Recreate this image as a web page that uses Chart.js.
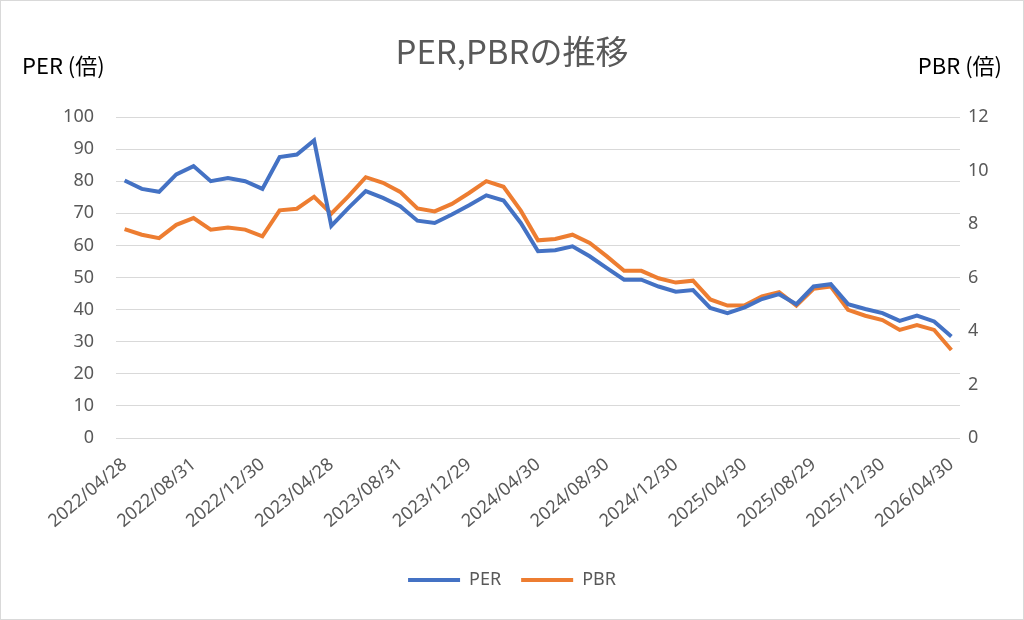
<!DOCTYPE html>
<html>
<head>
<meta charset="utf-8">
<script src="https://cdn.jsdelivr.net/npm/chart.js@4.4.1/dist/chart.umd.min.js"></script>
<style>
  html, body { margin: 0; padding: 0; background: #fff; }
  #wrap { width: 1024px; height: 620px; box-sizing: border-box; border: 1px solid #d9d9d9; }
</style>
</head>
<body>
<div id="wrap"><canvas id="chart" width="1022" height="618"></canvas></div>
<script>
// month-end dates
const dates = [
  '2022/04/28', '2022/05/31', '2022/06/30', '2022/07/29', '2022/08/31', '2022/09/30', '2022/10/31', '2022/11/30', '2022/12/30',
  '2023/01/31', '2023/02/28', '2023/03/31', '2023/04/28', '2023/05/31', '2023/06/30', '2023/07/31', '2023/08/31', '2023/09/29',
  '2023/10/31', '2023/11/30', '2023/12/29', '2024/01/31', '2024/02/29', '2024/03/29', '2024/04/30', '2024/05/31', '2024/06/28',
  '2024/07/31', '2024/08/30', '2024/09/30', '2024/10/31', '2024/11/29', '2024/12/30', '2025/01/31', '2025/02/28', '2025/03/31',
  '2025/04/30', '2025/05/30', '2025/06/30', '2025/07/31', '2025/08/29', '2025/09/30', '2025/10/31', '2025/11/28', '2025/12/30',
  '2026/01/30', '2026/02/27', '2026/03/31', '2026/04/30'
];

// PER (left axis)
const perValues = [
  80.2, 77.6, 76.7, 82.1, 84.7, 80.0, 81.0, 80.0, 77.6, 87.5, 88.3, 92.7, 66.1,
  71.7, 76.9, 74.8, 72.2, 67.7, 67.0, 69.6, 72.5, 75.6, 74.0, 67.0, 58.2, 58.5,
  59.7, 56.6, 52.9, 49.3, 49.3, 47.2, 45.6, 46.1, 40.5, 38.9, 40.7, 43.3, 44.8,
  41.7, 47.2, 47.9, 41.7, 40.2, 38.9, 36.5, 38.1, 36.3, 31.6
];

// PBR (right axis)
const pbrValues = [
  7.81, 7.60, 7.47, 7.97, 8.22, 7.79, 7.87, 7.79, 7.54, 8.51, 8.57, 9.02, 8.39,
  9.04, 9.75, 9.54, 9.20, 8.58, 8.47, 8.75, 9.16, 9.60, 9.39, 8.50, 7.39, 7.44,
  7.60, 7.29, 6.79, 6.25, 6.25, 5.97, 5.81, 5.88, 5.18, 4.95, 4.96, 5.29, 5.45,
  4.95, 5.58, 5.66, 4.79, 4.57, 4.41, 4.04, 4.22, 4.04, 3.29
];

const FONT = "'Noto Sans', 'Noto Sans CJK JP', sans-serif";
const GREY = '#595959';

// title and the two axis captions drawn on top
const textPlugin = {
  id: 'texts',
  afterDraw(chart) {
    const ctx = chart.ctx;
    ctx.save();
    ctx.textBaseline = 'middle';
    ctx.fillStyle = GREY;
    ctx.font = "33px 'Noto Sans CJK JP', 'Noto Sans', sans-serif";
    ctx.textAlign = 'center';
    ctx.fillText('PER,PBRの推移', 511, 50);
    ctx.fillStyle = '#000';
    ctx.font = "22px 'Noto Sans CJK JP', 'Noto Sans', sans-serif";
    ctx.textAlign = 'left';
    ctx.fillText('PER (倍)', 21, 65);
    ctx.textAlign = 'right';
    ctx.fillText('PBR (倍)', 1001, 65);
    ctx.restore();
  }
};

new Chart(document.getElementById('chart'), {
  type: 'line',
  data: {
    labels: dates,
    datasets: [
      {
        label: 'PER',
        data: perValues,
        yAxisID: 'y',
        borderColor: '#4472C4',
        backgroundColor: '#4472C4',
        borderWidth: 4,
        pointRadius: 0,
        tension: 0
      },
      {
        label: 'PBR',
        data: pbrValues,
        yAxisID: 'y1',
        borderColor: '#ED7D31',
        backgroundColor: '#ED7D31',
        borderWidth: 4,
        pointRadius: 0,
        tension: 0
      }
    ]
  },
  options: {
    responsive: false,
    animation: false,
    layout: { padding: { top: 116, bottom: 20 } },
    plugins: {
      legend: {
        position: 'bottom',
        labels: {
          usePointStyle: true,
          pointStyle: 'line',
          pointStyleWidth: 52,
          boxHeight: 5,
          color: GREY,
          font: { family: FONT, size: 18 },
          padding: 20
        }
      },
      tooltip: { enabled: false }
    },
    scales: {
      x: {
        offset: true,
        grid: { display: false, drawTicks: false },
        border: { display: false },
        ticks: {
          autoSkip: false,
          minRotation: 40,
          maxRotation: 40,
          color: GREY,
          font: { family: FONT, size: 18 },
          padding: 16,
          callback: function (value, index) {
            return index % 4 === 0 ? this.getLabelForValue(value) : '';
          }
        },
        afterFit: (axis) => { axis.height = 113; }
      },
      y: {
        position: 'left',
        min: 0,
        max: 100,
        grid: { color: '#d9d9d9', lineWidth: 1, drawTicks: false },
        border: { display: false },
        ticks: {
          stepSize: 10,
          color: GREY,
          font: { family: FONT, size: 18 },
          padding: 22
        },
        afterFit: (axis) => { axis.width = 115; }
      },
      y1: {
        position: 'right',
        min: 0,
        max: 12,
        grid: { display: false, drawTicks: false },
        border: { display: false },
        ticks: {
          stepSize: 2,
          color: GREY,
          font: { family: FONT, size: 18 },
          padding: 8
        },
        afterFit: (axis) => { axis.width = 63; }
      }
    }
  },
  plugins: [textPlugin]
});
</script>
</body>
</html>
